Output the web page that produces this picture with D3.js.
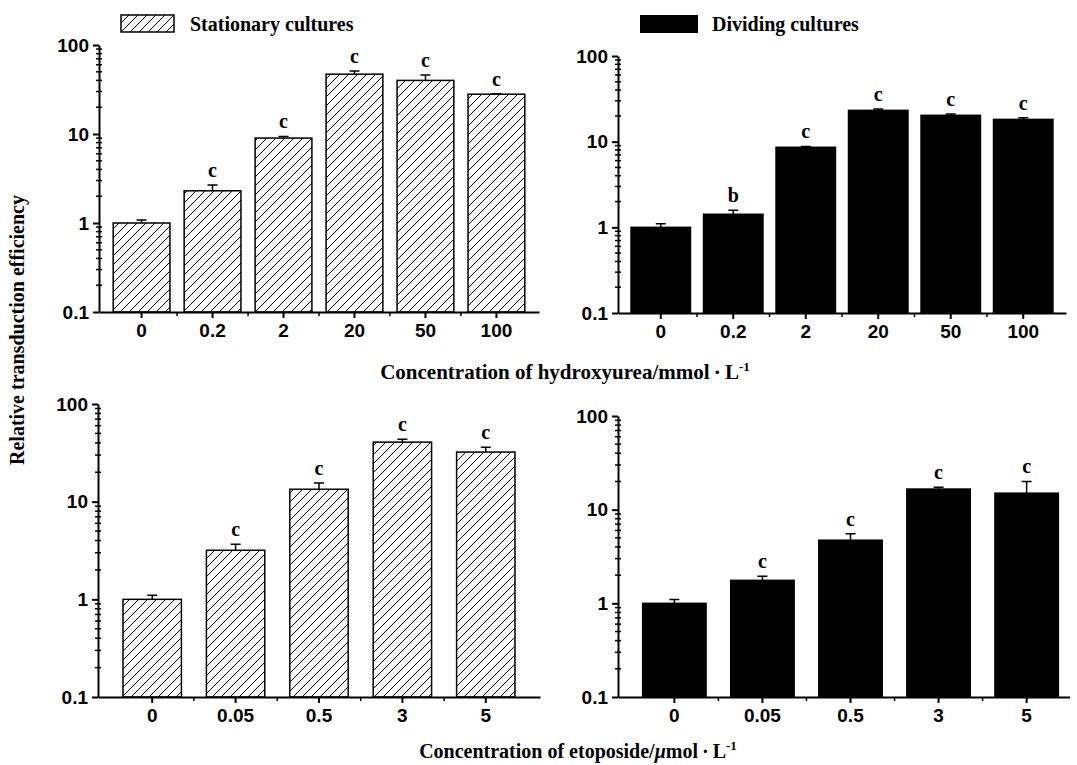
<!DOCTYPE html>
<html>
<head>
<meta charset="utf-8">
<script src="https://cdn.jsdelivr.net/npm/d3@7"></script>
<style>
	body { margin: 0; background: #fff; }
	svg { display: block; }
</style>
</head>
<body>
<div id="chart"></div>
<script>

// Data
let hydroxyureaDoses = ["0", "0.2", "2", "20", "50", "100"];
let etoposideDoses = ["0", "0.05", "0.5", "3", "5"];

let hydroxyStationary = [1.0, 2.3, 9.0, 47, 40, 28];
let hydroxyStationaryErr = [0.08, 0.37, 0.4, 4, 6, 0.3];
let hydroxyStationaryMarks = ["", "c", "c", "c", "c", "c"];

let hydroxyDividing = [1.0, 1.42, 8.6, 23.2, 20.3, 18.2];
let hydroxyDividingErr = [0.1, 0.16, 0.2, 0.8, 0.7, 0.8];
let hydroxyDividingMarks = ["", "b", "c", "c", "c", "c"];

let etoStationary = [1.0, 3.18, 13.4, 40.7, 32.2];
let etoStationaryErr = [0.1, 0.48, 2.1, 2.9, 3.8];
let etoStationaryMarks = ["", "c", "c", "c", "c"];

let etoDividing = [1.0, 1.76, 4.72, 16.6, 15.0];
let etoDividingErr = [0.1, 0.19, 0.8, 0.8, 5.0];
let etoDividingMarks = ["", "c", "c", "c", "c"];

let yMajorTicks = [0.1, 1, 10, 100];

let serif = "'Liberation Serif', 'Times New Roman', serif";
let sans = "'Liberation Sans', Arial, sans-serif";

let svg = d3.select("#chart").append("svg")
	.attr("width", 1077)
	.attr("height", 765);

// hatch pattern for stationary cultures
let defs = svg.append("defs");
defs.append("pattern")
	.attr("id", "hatch")
	.attr("patternUnits", "userSpaceOnUse")
	.attr("width", 9)
	.attr("height", 9)
	.append("path")
	.attr("d", "M0,9 L9,0 M-2,2 L2,-2 M7,11 L11,7")
	.attr("stroke", "#000")
	.attr("stroke-width", 1);

defs.append("clipPath")
	.attr("id", "rightEdge")
	.append("rect")
	.attr("x", 0).attr("y", 0)
	.attr("width", 1070).attr("height", 765);

// one bar panel
function drawPanel(cfg) {
	let x = d3.scaleBand()
		.domain(cfg.cats)
		.range([cfg.left, cfg.right])
		.padding(cfg.pad);

	let y = d3.scaleLog()
		.domain([0.1, 100])
		.range([cfg.bottom, cfg.top]);

	let g = svg.append("g").attr("clip-path", "url(#rightEdge)");

	let rows = cfg.cats.map((c, i) => ({cat: c, val: cfg.vals[i], err: cfg.errs[i], mark: cfg.marks[i]}));

	// bars
	g.selectAll(".bar")
		.data(rows)
		.enter()
		.append("rect")
		.attr("class", "bar")
		.attr("x", d => x(d.cat))
		.attr("width", x.bandwidth())
		.attr("y", d => y(d.val))
		.attr("height", d => cfg.bottom - y(d.val))
		.attr("fill", cfg.fill)
		.attr("stroke", "#000")
		.attr("stroke-width", 1.5);

	// upper error bars
	g.selectAll(".err")
		.data(rows)
		.enter()
		.append("path")
		.attr("class", "err")
		.attr("d", d => {
			let cx = x(d.cat) + x.bandwidth() / 2;
			let y0 = y(d.val), y1 = y(d.val + d.err);
			return "M" + cx + "," + y0 + "V" + y1 + "M" + (cx - 5) + "," + y1 + "H" + (cx + 5);
		})
		.attr("stroke", "#000")
		.attr("stroke-width", 1.5)
		.attr("fill", "none");

	// significance letters
	g.selectAll(".mark")
		.data(rows)
		.enter()
		.append("text")
		.attr("class", "mark")
		.attr("x", d => x(d.cat) + x.bandwidth() / 2)
		.attr("y", d => y(d.val + d.err) - 8)
		.attr("text-anchor", "middle")
		.attr("font-family", serif)
		.attr("font-weight", "bold")
		.attr("font-size", 20)
		.text(d => d.mark);

	// x axis
	let xAxis = g.append("g")
		.attr("transform", "translate(0," + cfg.bottom + ")")
		.call(d3.axisBottom(x).tickSize(6).tickSizeOuter(0).tickPadding(6));
	xAxis.select(".domain").attr("stroke-width", 2);
	xAxis.selectAll(".tick line").attr("stroke-width", 2);
	xAxis.selectAll("text")
		.attr("font-family", sans)
		.attr("font-weight", "bold")
		.attr("font-size", 19);

	// minor x ticks at band boundaries
	let bounds = cfg.cats.slice(1).map(c => x(c) - x.step() * x.paddingInner() / 2);
	g.selectAll(".xminor")
		.data(bounds)
		.enter()
		.append("line")
		.attr("x1", d => d).attr("x2", d => d)
		.attr("y1", cfg.bottom).attr("y2", cfg.bottom + 4)
		.attr("stroke", "#000")
		.attr("stroke-width", 1.5);

	// y axis
	let yAxis = svg.append("g")
		.attr("transform", "translate(" + cfg.left + ",0)")
		.call(d3.axisLeft(y).tickValues(yMajorTicks).tickFormat(d3.format("")).tickSize(6).tickSizeOuter(0).tickPadding(4));
	yAxis.select(".domain").attr("stroke-width", 2);
	yAxis.selectAll(".tick line").attr("stroke-width", 2);
	yAxis.selectAll("text")
		.attr("font-family", sans)
		.attr("font-weight", "bold")
		.attr("font-size", 19);

	let minor = y.ticks().filter(t => yMajorTicks.indexOf(t) < 0);
	yAxis.selectAll(".yminor")
		.data(minor)
		.enter()
		.append("line")
		.attr("x1", -3).attr("x2", 3)
		.attr("y1", d => y(d)).attr("y2", d => y(d))
		.attr("stroke", "#000")
		.attr("stroke-width", 1.5);
}

drawPanel({cats: hydroxyureaDoses, vals: hydroxyStationary, errs: hydroxyStationaryErr, marks: hydroxyStationaryMarks,
	left: 99, right: 539, top: 45, bottom: 312, pad: 0.2, fill: "url(#hatch)"});
drawPanel({cats: hydroxyureaDoses, vals: hydroxyDividing, errs: hydroxyDividingErr, marks: hydroxyDividingMarks,
	left: 618, right: 1066, top: 56, bottom: 313, pad: 0.18, fill: "#000"});
drawPanel({cats: etoposideDoses, vals: etoStationary, errs: etoStationaryErr, marks: etoStationaryMarks,
	left: 98, right: 540, top: 404, bottom: 697, pad: 0.3, fill: "url(#hatch)"});
drawPanel({cats: etoposideDoses, vals: etoDividing, errs: etoDividingErr, marks: etoDividingMarks,
	left: 618, right: 1083, top: 416, bottom: 697, pad: 0.28, fill: "#000"});

// legend
let legend = svg.append("g");
legend.append("rect")
	.attr("x", 121).attr("y", 15).attr("width", 53).attr("height", 17)
	.attr("fill", "url(#hatch)").attr("stroke", "#000").attr("stroke-width", 1.5);
legend.append("text")
	.attr("x", 190).attr("y", 31)
	.attr("font-family", serif).attr("font-weight", "bold").attr("font-size", 20)
	.text("Stationary cultures");
legend.append("rect")
	.attr("x", 640).attr("y", 15).attr("width", 58).attr("height", 18)
	.attr("fill", "#000");
legend.append("text")
	.attr("x", 712).attr("y", 31)
	.attr("font-family", serif).attr("font-weight", "bold").attr("font-size", 20)
	.text("Dividing cultures");

// axis titles
svg.append("text")
	.attr("transform", "translate(24,330) rotate(-90)")
	.attr("text-anchor", "middle")
	.attr("font-family", serif).attr("font-weight", "bold").attr("font-size", 20)
	.text("Relative transduction efficiency");

let hx = svg.append("text")
	.attr("x", 565).attr("y", 379)
	.attr("text-anchor", "middle")
	.attr("font-family", serif).attr("font-weight", "bold").attr("font-size", 21);
hx.append("tspan").text("Concentration of hydroxyurea/mmol\u2009\u00b7\u2009L");
hx.append("tspan").attr("dy", -8).attr("font-size", 13).text("-1");

let ex = svg.append("text")
	.attr("x", 578).attr("y", 758)
	.attr("text-anchor", "middle")
	.attr("font-family", serif).attr("font-weight", "bold").attr("font-size", 20);
ex.append("tspan").text("Concentration of etoposide/");
ex.append("tspan").attr("font-style", "italic").text("\u03bc");
ex.append("tspan").text("mol\u2009\u00b7\u2009L");
ex.append("tspan").attr("dy", -8).attr("font-size", 13).text("-1");

</script>
</body>
</html>
